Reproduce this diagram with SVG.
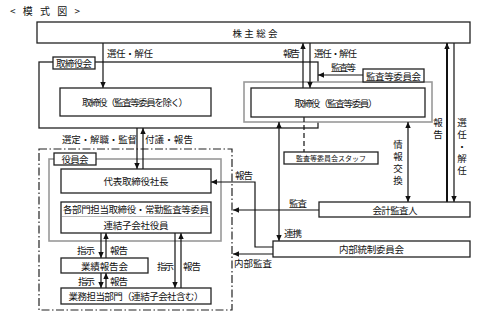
<svg xmlns="http://www.w3.org/2000/svg" width="499" height="320" viewBox="0 0 499 320">
<defs>
<marker id="ah" markerUnits="userSpaceOnUse" markerWidth="7" markerHeight="6" refX="6" refY="3" orient="auto-start-reverse">
<path d="M0,0.3 L6,3 L0,5.7 z" fill="#111"/>
</marker>
</defs>
<style>
text{font-family:"Noto Sans CJK JP","Noto Sans CJK SC",sans-serif;font-size:9.5px;fill:#111;dominant-baseline:central}
.c{text-anchor:middle}
.v{writing-mode:vertical-rl;letter-spacing:2.5px}
.box{fill:#fff;stroke:#222;stroke-width:1.3}
.grey{fill:#fff;stroke:#999;stroke-width:1.6}
.frame{fill:none;stroke:#222;stroke-width:1.3}
.dd{fill:none;stroke:#222;stroke-width:1.2;stroke-dasharray:8 2.5 1.5 2.5}
.ln{fill:none;stroke:#111;stroke-width:1.2}
.ar{fill:none;stroke:#111;stroke-width:1.2;marker-end:url(#ah)}
.ar2{fill:none;stroke:#111;stroke-width:1.2;marker-end:url(#ah);marker-start:url(#ah)}
.sm{font-size:7px}
</style>

<text x="10" y="10" textLength="70" lengthAdjust="spacing" style="font-size:10px">&lt; 模 式 図 &gt;</text>

<g id="torishimariyakukai">
<rect class="frame" x="39" y="62" width="279" height="66"/>
</g>
<g id="yakuinkai">
<rect class="dd" x="39" y="149" width="193" height="161"/>
<rect class="grey" x="49" y="159" width="172" height="82"/>
</g>
<g id="kansa-iinkai-frame">
<rect class="grey" x="244" y="82" width="188" height="40"/>
</g>

<g id="connectors">
<path class="ar" d="M103,43 V88"/>
<path class="ar" d="M303,88 V43"/>
<path class="ar" d="M310,43 V88"/>
<path class="ar" d="M363,75 H318"/>
<path class="ar" d="M447,202 V43" style="stroke-width:2"/>
<path class="ar" d="M454,43 V202"/>
<path class="ar2" d="M408,122 V202"/>
<path class="ln" d="M304,117 V152" style="stroke-dasharray:5 3"/>
<path class="ar2" d="M279,122 V241"/>
<path class="ar" d="M319,210 H233"/>
<path class="ar" d="M273,247 H255 V182 H211"/>
<path class="ar" d="M273,254 H233"/>
<path class="ar" d="M137,128 V169"/>
<path class="ar" d="M143,169 V128"/>
<path class="ar" d="M101,233 V258"/>
<path class="ar" d="M106,258 V233"/>
<path class="ar" d="M101,273 V288"/>
<path class="ar" d="M106,288 V273"/>
<path class="ar" d="M175,233 V288"/>
<path class="ar" d="M181,288 V233"/>
</g>

<g id="labels">
<text x="107" y="53" textLength="46">選任・解任</text>
<text x="283" y="53" textLength="17">報告</text>
<text x="314" y="53" textLength="43">選任・解任</text>
<text x="331" y="67" textLength="25">監査等</text>
<text class="v" x="398" y="140">情報交換</text>
<text class="v" x="438" y="118">報告</text>
<text class="v" x="462" y="118">選任・解任</text>
<text x="289" y="203" textLength="18">監査</text>
<text x="235" y="175" textLength="18">報告</text>
<text x="284" y="233" textLength="18">連携</text>
<text x="234" y="263" textLength="38">内部監査</text>
<text x="62" y="139" textLength="75">選定・解職・監督</text>
<text x="145" y="139" textLength="48">付議・報告</text>
<text x="77" y="250" textLength="18">指示</text>
<text x="110" y="250" textLength="18">報告</text>
<text x="78" y="281" textLength="17">指示</text>
<text x="110" y="281" textLength="18">報告</text>
<text x="157" y="266" textLength="17">指示</text>
<text x="183" y="266" textLength="18">報告</text>
</g>

<g id="kabunushi">
<rect class="box" x="37" y="22" width="433" height="21"/>
<text class="c" x="255" y="33" textLength="45">株主総会</text>
</g>
<g id="torishimariyakukai-label">
<rect class="box" x="53" y="57" width="42" height="12"/>
<text class="c" x="74" y="63" textLength="36">取締役会</text>
</g>
<g id="torishimariyaku">
<rect class="box" x="60" y="88" width="151" height="28"/>
<text class="c" x="135" y="102" textLength="106">取締役（監査等委員を除く）</text>
</g>
<g id="torishimariyaku-kansa">
<rect class="box" x="251" y="88" width="174" height="29"/>
<text class="c" x="336" y="102.5" textLength="83">取締役（監査等委員）</text>
</g>
<g id="kansa-iinkai">
<rect class="box" x="363" y="69" width="61" height="13"/>
<text class="c" x="393.5" y="75.5" textLength="55">監査等委員会</text>
</g>
<g id="staff">
<rect class="box" x="284" y="152" width="94" height="12"/>
<text class="c sm" x="331" y="158" textLength="70">監査等委員会スタッフ</text>
</g>
<g id="kaikei">
<rect class="box" x="319" y="202" width="151" height="15"/>
<text class="c" x="395" y="209.5" textLength="45">会計監査人</text>
</g>
<g id="naibu">
<rect class="box" x="273" y="241" width="197" height="16"/>
<text class="c" x="371.5" y="249" textLength="65">内部統制委員会</text>
</g>
<g id="yakuinkai-label">
<rect class="box" x="54" y="153" width="42" height="12"/>
<text class="c" x="75" y="159" textLength="27">役員会</text>
</g>
<g id="shacho">
<rect class="box" x="61" y="169" width="150" height="24"/>
<text class="c" x="136" y="181" textLength="65">代表取締役社長</text>
</g>
<g id="bumon">
<rect class="box" x="61" y="202" width="150" height="31"/>
<line x1="62" y1="216.5" x2="210" y2="216.5" stroke="#bbb" stroke-width="1"/>
<text class="c" x="136" y="209" textLength="146">各部門担当取締役・常勤監査等委員</text>
<text class="c" x="136" y="225" textLength="65">連結子会社役員</text>
</g>
<g id="gyoseki">
<rect class="box" x="61" y="258" width="87" height="15"/>
<text class="c" x="104.5" y="265.5" textLength="47">業績報告会</text>
</g>
<g id="gyomu">
<rect class="box" x="61" y="288" width="150" height="16"/>
<text class="c" x="136" y="296" textLength="135">業務担当部門（連結子会社含む）</text>
</g>
</svg>
